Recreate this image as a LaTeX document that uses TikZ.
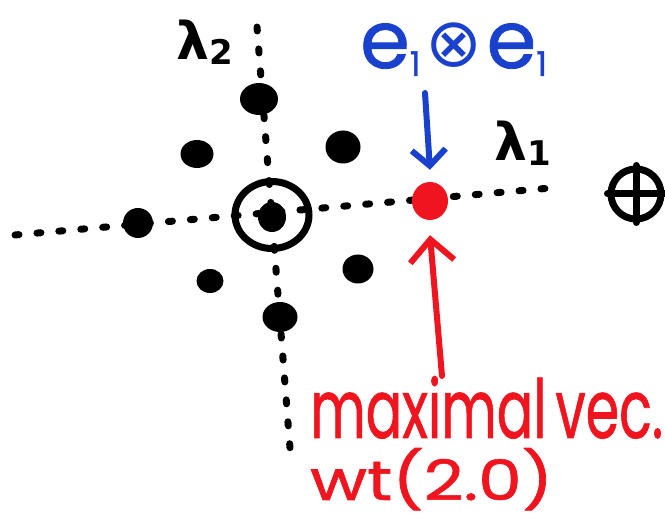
\documentclass[tikz,border=0pt]{standalone}
\usepackage{fontspec}
\setmainfont{Poppins}
\newfontfamily\handfont{Poppins}[FakeBold=1]
\newfontfamily\symfont{DejaVu Sans}
\usetikzlibrary{arrows.meta, shapes.geometric}
\definecolor{inkred}{RGB}{240,20,30}
\definecolor{inkblue}{RGB}{25,65,205}
\tikzset{
  axisline/.style={line width=7pt, line cap=round, dash pattern=on 4pt off 18pt},
  wtdot/.style 2 args={ellipse, fill=black, inner sep=0pt, minimum width=#1, minimum height=#2},
  pen/.style={line width=6pt, line cap=round, line join=round},
  ring/.style={draw, ellipse, line width=7pt, inner sep=0pt},
  txt/.style={inner sep=0pt, font=\handfont},
}
\begin{document}
\begin{tikzpicture}[x=1pt, y=-1pt]
\useasboundingbox (0,0) rectangle (665,521);

% axes of the weight lattice
\coordinate (xl) at (15,235);
\coordinate (xr) at (562,187);
\coordinate (yt) at (257,27);
\coordinate (yb) at (290,448);
\draw[axisline] (xl) -- (xr);
\draw[axisline] (yt) -- (yb);

% weights
\node[wtdot={38pt}{32pt}] (wtop) at (259,99) {};
\node[wtdot={33pt}{28pt}] (wul) at (197,154) {};
\node[wtdot={35pt}{33pt}] (wur) at (343,147) {};
\node[wtdot={30pt}{30pt}] (wl) at (138,223) {};
\node[wtdot={28pt}{30pt}] (wc) at (272,217) {};
\node[wtdot={27pt}{24pt}] (wll) at (210,281) {};
\node[wtdot={31pt}{29pt}] (wlr) at (358,269) {};
\node[wtdot={35pt}{30pt}] (wb) at (280,317) {};
\node[ring, minimum width=74pt, minimum height=67pt] (ringc) at (272,215) {};

% highest weight
\node[ellipse, fill=inkred, inner sep=0pt, minimum width=36pt, minimum height=38pt] (hw) at (430,201) {};

% axis labels
\node[txt] (l2) at (205,42) {\symfont\bfseries\fontsize{52}{52}\selectfont λ\raisebox{-5pt}{\fontsize{34}{34}\selectfont 2}};
\node[txt] (l1) at (523,143) {\symfont\bfseries\fontsize{52}{52}\selectfont λ\raisebox{-5pt}{\fontsize{34}{34}\selectfont 1}};

% direct sum sign at the right edge
\node[ring, minimum size=50pt] (dsum) at (636,194) {};
\draw[pen, line width=7pt] (dsum.north) -- (dsum.south);
\draw[pen, line width=7pt] (dsum.west) -- (dsum.east);

% labels and pointers
\node[txt, text=inkblue, anchor=base west] (tens) at (360,68)
  {\fontsize{80}{80}\selectfont e\raisebox{-8pt}{\fontsize{34}{34}\selectfont 1}\hspace{5pt}\raisebox{1pt}{\symfont\fontsize{68}{68}\selectfont ⊗}\hspace{4pt}e\raisebox{-8pt}{\fontsize{34}{34}\selectfont 1}};
\draw[pen, inkblue, -{Straight Barb[length=16pt, width=34pt]}] (425,93) -- ([yshift=12pt]hw.north);

\node[txt, text=inkred, anchor=base west] (maxv) at (310,438)
  {\resizebox{353pt}{62pt}{maximal\,vec.}};
\node[txt, text=inkred, anchor=base west] (wtl) at (310,500)
  {\resizebox{243pt}{52pt}{\fontsize{60}{60}\selectfont wt(2.0)}};
\draw[pen, inkred, -{Straight Barb[length=22pt, width=44pt]}] (442,376) -- ([yshift=-15pt]hw.south);
\end{tikzpicture}
\end{document}
